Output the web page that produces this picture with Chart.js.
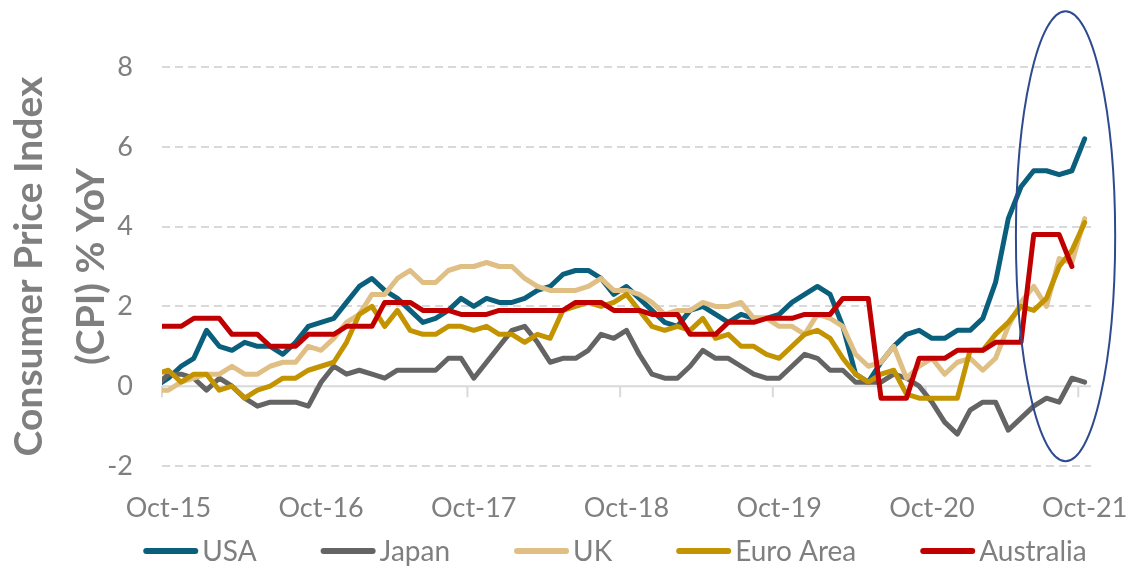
<!DOCTYPE html>
<html>
<head>
<meta charset="utf-8">
<title>Consumer Price Index (CPI) % YoY</title>
<script src="https://cdn.jsdelivr.net/npm/chart.js@4.4.1/dist/chart.umd.min.js"></script>
<style>
    html, body { margin: 0; padding: 0; background: #fff; }
    #cpi { display: block; }
</style>
</head>
<body>
<canvas id="cpi" width="1130" height="568"></canvas>
<script>
// monthly, Sep-15 .. Oct-21 (Sep-15 sits just outside the left edge)
const months = [
    'Sep-15', 'Oct-15', 'Nov-15', 'Dec-15',
    'Jan-16', 'Feb-16', 'Mar-16', 'Apr-16', 'May-16', 'Jun-16', 'Jul-16', 'Aug-16', 'Sep-16', 'Oct-16', 'Nov-16', 'Dec-16',
    'Jan-17', 'Feb-17', 'Mar-17', 'Apr-17', 'May-17', 'Jun-17', 'Jul-17', 'Aug-17', 'Sep-17', 'Oct-17', 'Nov-17', 'Dec-17',
    'Jan-18', 'Feb-18', 'Mar-18', 'Apr-18', 'May-18', 'Jun-18', 'Jul-18', 'Aug-18', 'Sep-18', 'Oct-18', 'Nov-18', 'Dec-18',
    'Jan-19', 'Feb-19', 'Mar-19', 'Apr-19', 'May-19', 'Jun-19', 'Jul-19', 'Aug-19', 'Sep-19', 'Oct-19', 'Nov-19', 'Dec-19',
    'Jan-20', 'Feb-20', 'Mar-20', 'Apr-20', 'May-20', 'Jun-20', 'Jul-20', 'Aug-20', 'Sep-20', 'Oct-20', 'Nov-20', 'Dec-20',
    'Jan-21', 'Feb-21', 'Mar-21', 'Apr-21', 'May-21', 'Jun-21', 'Jul-21', 'Aug-21', 'Sep-21', 'Oct-21'
];

// only the Octobers get a label
const labelledMonths = ['Oct-15', 'Oct-16', 'Oct-17', 'Oct-18', 'Oct-19', 'Oct-20', 'Oct-21'];

const usa = [
    0.0, 0.2, 0.5, 0.7,
    1.4, 1.0, 0.9, 1.1, 1.0, 1.0, 0.8, 1.1, 1.5, 1.6, 1.7, 2.1,
    2.5, 2.7, 2.4, 2.2, 1.9, 1.6, 1.7, 1.9, 2.2, 2.0, 2.2, 2.1,
    2.1, 2.2, 2.4, 2.5, 2.8, 2.9, 2.9, 2.7, 2.3, 2.5, 2.2, 1.9,
    1.6, 1.5, 1.9, 2.0, 1.8, 1.6, 1.8, 1.7, 1.7, 1.8, 2.1, 2.3,
    2.5, 2.3, 1.5, 0.3, 0.1, 0.6, 1.0, 1.3, 1.4, 1.2, 1.2, 1.4,
    1.4, 1.7, 2.6, 4.2, 5.0, 5.4, 5.4, 5.3, 5.4, 6.2
];

const japan = [
    0.0, 0.3, 0.3, 0.2,
    -0.1, 0.2, 0.0, -0.3, -0.5, -0.4, -0.4, -0.4, -0.5, 0.1, 0.5, 0.3,
    0.4, 0.3, 0.2, 0.4, 0.4, 0.4, 0.4, 0.7, 0.7, 0.2, 0.6, 1.0,
    1.4, 1.5, 1.1, 0.6, 0.7, 0.7, 0.9, 1.3, 1.2, 1.4, 0.8, 0.3,
    0.2, 0.2, 0.5, 0.9, 0.7, 0.7, 0.5, 0.3, 0.2, 0.2, 0.5, 0.8,
    0.7, 0.4, 0.4, 0.1, 0.1, 0.1, 0.3, 0.2, 0.0, -0.4, -0.9, -1.2,
    -0.6, -0.4, -0.4, -1.1, -0.8, -0.5, -0.3, -0.4, 0.2, 0.1
];

const uk = [
    -0.1, -0.1, 0.1, 0.2,
    0.3, 0.3, 0.5, 0.3, 0.3, 0.5, 0.6, 0.6, 1.0, 0.9, 1.2, 1.6,
    1.8, 2.3, 2.3, 2.7, 2.9, 2.6, 2.6, 2.9, 3.0, 3.0, 3.1, 3.0,
    3.0, 2.7, 2.5, 2.4, 2.4, 2.4, 2.5, 2.7, 2.4, 2.4, 2.3, 2.1,
    1.8, 1.9, 1.9, 2.1, 2.0, 2.0, 2.1, 1.7, 1.7, 1.5, 1.5, 1.3,
    1.8, 1.7, 1.5, 0.8, 0.5, 0.6, 1.0, 0.2, 0.5, 0.7, 0.3, 0.6,
    0.7, 0.4, 0.7, 1.5, 2.1, 2.5, 2.0, 3.2, 3.1, 4.2
];

const euroArea = [
    0.3, 0.4, 0.1, 0.3,
    0.3, -0.1, 0.0, -0.3, -0.1, 0.0, 0.2, 0.2, 0.4, 0.5, 0.6, 1.1,
    1.8, 2.0, 1.5, 1.9, 1.4, 1.3, 1.3, 1.5, 1.5, 1.4, 1.5, 1.3,
    1.3, 1.1, 1.3, 1.2, 1.9, 2.0, 2.1, 2.0, 2.1, 2.3, 1.9, 1.5,
    1.4, 1.5, 1.4, 1.7, 1.2, 1.3, 1.0, 1.0, 0.8, 0.7, 1.0, 1.3,
    1.4, 1.2, 0.7, 0.3, 0.1, 0.3, 0.4, -0.2, -0.3, -0.3, -0.3, -0.3,
    0.9, 0.9, 1.3, 1.6, 2.0, 1.9, 2.2, 3.0, 3.4, 4.1
];

// quarterly figure held for three months, no Oct-21 reading yet
const australia = [
    1.5, 1.5, 1.5, 1.7,
    1.7, 1.7, 1.3, 1.3, 1.3, 1.0, 1.0, 1.0, 1.3, 1.3, 1.3, 1.5,
    1.5, 1.5, 2.1, 2.1, 2.1, 1.9, 1.9, 1.9, 1.8, 1.8, 1.8, 1.9,
    1.9, 1.9, 1.9, 1.9, 1.9, 2.1, 2.1, 2.1, 1.9, 1.9, 1.9, 1.8,
    1.8, 1.8, 1.3, 1.3, 1.3, 1.6, 1.6, 1.6, 1.7, 1.7, 1.7, 1.8,
    1.8, 1.8, 2.2, 2.2, 2.2, -0.3, -0.3, -0.3, 0.7, 0.7, 0.7, 0.9,
    0.9, 0.9, 1.1, 1.1, 1.1, 3.8, 3.8, 3.8, 3.0, null
];

const grey = '#7f7f7f';

function serie(label, values, colour, order) {
    return {
        label: label,
        data: values.map(function(v, i) { return { x: i, y: v }; }),
        borderColor: colour,
        backgroundColor: colour,
        borderWidth: 5,
        borderJoinStyle: 'round',
        borderCapStyle: 'round',
        pointRadius: 0,
        tension: 0,
        clip: 0,
        order: order
    };
}

const tickMonths = labelledMonths.map(function(m) { return months.indexOf(m); });

// zero line with the year tick marks hanging below it
const zeroAxis = {
    id: 'zeroAxis',
    beforeDatasetsDraw(chart) {
        const { ctx, chartArea, scales } = chart;
        const y0 = scales.y.getPixelForValue(0);
        ctx.save();
        ctx.strokeStyle = '#d9d9d9';
        ctx.lineWidth = 2;
        ctx.beginPath();
        ctx.moveTo(chartArea.left, y0);
        ctx.lineTo(chartArea.right, y0);
        tickMonths.forEach(function(m) {
            const px = scales.x.getPixelForValue(m - 0.5);
            ctx.moveTo(px, y0);
            ctx.lineTo(px, y0 + 11);
        });
        ctx.stroke();
        ctx.restore();
    }
};

// the hand-drawn ring round the latest months
const ring = {
    id: 'ring',
    afterDraw(chart) {
        const { ctx, scales } = chart;
        const cx = scales.x.getPixelForValue(71.5);
        const cy = scales.y.getPixelForValue(3.76);
        const rx = scales.x.getPixelForValue(71.5 + 3.9) - cx;
        const ry = cy - scales.y.getPixelForValue(3.76 + 5.64);
        ctx.save();
        ctx.strokeStyle = '#2f4b8f';
        ctx.lineWidth = 2;
        ctx.beginPath();
        ctx.ellipse(cx, cy, rx, ry, 0, 0, Math.PI * 2);
        ctx.stroke();
        ctx.restore();
    }
};

// legend drawn by hand so the swatch sits right against its text
const bottomLegend = {
    id: 'bottomLegend',
    afterDraw(chart) {
        const ctx = chart.ctx;
        const sets = chart.data.datasets;
        const swatch = 55, textGap = 4, itemGap = 64;
        ctx.save();
        ctx.font = '28px Lato';
        const widths = sets.map(function(d) { return swatch + textGap + ctx.measureText(d.label).width; });
        const total = widths.reduce(function(a, b) { return a + b; }, 0) + itemGap * (sets.length - 1);
        let x = 615 - total / 2;
        const y = 551;
        sets.forEach(function(d, i) {
            ctx.strokeStyle = d.borderColor;
            ctx.lineWidth = 6;
            ctx.lineCap = 'round';
            ctx.beginPath();
            ctx.moveTo(x + 3, y);
            ctx.lineTo(x + swatch - 3, y);
            ctx.stroke();
            ctx.fillStyle = grey;
            ctx.textAlign = 'left';
            ctx.textBaseline = 'middle';
            ctx.fillText(d.label, x + swatch + textGap, y + 1);
            x += widths[i] + itemGap;
        });
        ctx.restore();
    }
};

const ctx = document.getElementById('cpi');

new Chart(ctx, {
    type: 'line',
    data: {
        datasets: [
            serie('USA', usa, '#0a5f7d', 5),
            serie('Japan', japan, '#646464', 4),
            serie('UK', uk, '#e0bf85', 3),
            serie('Euro Area', euroArea, '#c39300', 2),
            serie('Australia', australia, '#c00000', 1)
        ]
    },
    options: {
        responsive: false,
        animation: false,
        devicePixelRatio: 1,
        layout: { padding: { top: 67, right: 39, bottom: 0, left: 0 } },
        plugins: {
            legend: { display: false },
            tooltip: { enabled: false }
        },
        scales: {
            x: {
                type: 'linear',
                min: 0.5,
                max: months.length - 0.5,
                afterBuildTicks: function(s) {
                    s.ticks = tickMonths.map(function(m) { return { value: m }; });
                },
                afterFit: function(s) { s.height = 102; },
                // tick marks are not drawn (grid hidden); tickLength only spaces the labels
                grid: { display: false, drawTicks: true, tickLength: 26 },
                border: { display: false },
                ticks: {
                    autoSkip: false,
                    maxRotation: 0,
                    minRotation: 0,
                    padding: 0,
                    color: grey,
                    font: { family: 'Lato', size: 27 },
                    callback: function(v) { return months[v]; }
                }
            },
            y: {
                min: -2,
                max: 8,
                afterFit: function(s) { s.width = 162; },
                ticks: {
                    stepSize: 2,
                    padding: 29,
                    color: grey,
                    font: { family: 'Lato', size: 27 }
                },
                grid: {
                    color: function(c) { return c.tick.value === 0 ? 'rgba(0,0,0,0)' : '#d9d9d9'; },
                    lineWidth: 2,
                    drawTicks: false
                },
                border: { display: false, dash: [8, 5] },
                title: {
                    display: true,
                    text: ['Consumer Price Index', '(CPI) % YoY'],
                    color: grey,
                    font: { family: 'Lato', size: 39, weight: 'bold', lineHeight: 1.6 },
                    padding: { top: -2, bottom: 0 }
                }
            }
        }
    },
    plugins: [zeroAxis, ring, bottomLegend]
});
</script>
</body>
</html>
